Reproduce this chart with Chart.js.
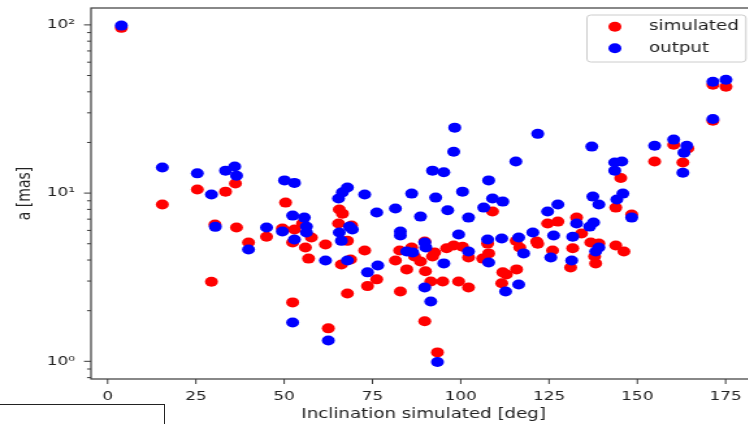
<!DOCTYPE html>
<html><head><meta charset="utf-8">
<script src="https://cdn.jsdelivr.net/npm/chart.js@4.4.1/dist/chart.umd.min.js"></script>
<style>
html,body{margin:0;padding:0;width:748px;height:424px;overflow:hidden;background:#fff;}
#wrap{position:absolute;left:0;top:0;width:600px;height:424px;transform:scaleX(1.3);transform-origin:0 0;}
#box{position:absolute;left:-4px;top:404px;width:167px;height:40px;border:1.3px solid #222;background:#fff;}
</style></head>
<body>
<div id="wrap"><canvas id="c" width="600" height="424"></canvas></div>
<div id="box"></div>
<script>
const seriesNames = ['simulated', 'output'];
const simInc = [3.9,15.5,25.4,29.4,30.4,33.4,36.2,36.5,39.9,45.0,50.4,49.5,52.9,55.2,52.4,56.0,56.9,57.7,52.4,61.7,62.5,65.6,66.5,65.4,67.9,66.2,68.8,69.1,67.9,72.8,73.6,76.2,81.5,82.7,82.9,84.7,86.1,86.9,88.6,89.8,89.8,90.0,91.5,92.6,92.0,93.4,94.9,96.0,98.0,100.5,99.4,102.2,102.2,106.2,107.9,107.6,109.0,111.9,112.9,111.6,115.8,116.7,115.7,121.5,121.8,124.6,127.5,126.0,132.8,134.2,131.7,131.1,136.8,139.1,137.9,138.2,143.9,145.3,143.9,146.2,148.4,154.9,160.3,164.3,162.9,171.4,171.4,175.1];
const simA = [96,8.55,10.5,2.97,6.5,10.2,11.4,6.24,5.08,5.5,8.78,6.15,6.07,6.59,5.08,4.75,4.08,5.44,2.24,4.95,1.57,7.98,7.55,6.59,5.2,3.76,4.03,6.41,2.53,4.56,2.8,3.07,3.97,4.56,2.6,3.52,4.75,4.2,3.92,5.15,1.73,3.43,2.98,4.44,4.2,1.13,2.98,4.7,4.88,4.8,2.98,4.14,2.75,4.08,4.38,5.01,7.77,3.38,3.28,2.91,3.52,4.75,5.2,5.15,5.0,6.59,6.77,4.56,7.15,5.75,4.7,3.61,5.08,5.01,4.2,3.82,8.2,12.3,4.88,4.5,7.45,15.4,19.4,18.4,15.2,26.9,44.1,42.9];
const outInc = [3.9,15.5,25.4,29.4,30.5,33.4,36.0,36.5,39.9,45.0,50.1,52.9,52.4,55.7,49.5,52.9,56.3,56.3,52.4,61.7,62.5,65.4,66.5,67.9,65.6,66.2,67.9,68.5,69.3,72.8,73.6,76.2,76.5,81.5,82.9,82.9,84.7,86.1,86.4,88.6,89.8,90.1,89.8,91.5,92.0,92.9,93.4,95.2,95.2,96.3,98.0,98.3,99.4,100.5,102.2,102.2,106.5,107.9,107.6,107.9,109.0,111.9,111.6,112.7,115.6,116.4,116.4,117.8,120.4,121.8,124.6,127.5,126.3,125.5,132.8,131.7,131.4,136.5,137.6,137.1,137.4,139.1,139.1,138.2,143.6,145.6,143.6,145.9,144.2,148.4,154.9,160.3,164.0,163.2,162.9,171.4,171.4,175.1];
const outA = [99,14.2,13.1,9.8,6.3,13.6,14.4,12.7,4.62,6.24,11.9,11.5,7.35,7.15,5.91,5.3,6.32,5.83,1.70,3.97,1.33,9.28,10.1,10.8,5.83,5.2,3.97,6.32,6.07,9.8,3.38,7.66,3.71,8.09,5.91,5.59,4.5,9.93,4.44,7.25,5.08,4.75,2.75,2.27,13.6,9.4,0.99,13.3,3.82,7.9,17.6,24.5,5.67,10.2,7.15,4.5,8.2,11.9,5.3,3.87,9.28,8.9,5.37,2.6,15.4,5.44,2.86,4.38,5.83,22.5,7.77,8.55,5.59,4.14,6.59,5.5,3.97,6.32,6.68,18.9,9.53,8.55,4.75,4.5,15.2,15.4,13.6,9.93,9.16,7.15,19.1,20.8,19.1,17.4,13.2,27.6,45.9,47.2];
const xTickValues = [0, 25, 50, 75, 100, 125, 150, 175];
const yTickLabels = {1: '10\u2070', 10: '10\u00B9', 100: '10\u00B2'};

const FONT = 'DejaVu Sans';
const INK = '#222';
const SPINE = '#3a3a3a';

function logTicks(min, max) {
  const out = [];
  for (let e = -1; e <= 2; e++) {
    for (let m = 1; m <= 9; m++) {
      const v = +(m * Math.pow(10, e)).toPrecision(3);
      if (v >= min && v <= max) out.push(v);
    }
  }
  return out;
}

const framePlugin = {
  id: 'frame',
  afterDatasetsDraw(chart) {
    const {ctx, chartArea: a, scales: {x, y}} = chart;
    ctx.save();
    ctx.strokeStyle = SPINE;
    ctx.lineWidth = 1.2;
    ctx.strokeRect(a.left, a.top, a.right - a.left, a.bottom - a.top);
    ctx.beginPath();
    x.ticks.forEach(t => {
      const px = x.getPixelForValue(t.value);
      ctx.moveTo(px, a.bottom); ctx.lineTo(px, a.bottom + 5);
    });
    y.ticks.forEach(t => {
      const py = y.getPixelForValue(t.value);
      const len = yTickLabels[t.value] ? 5.4 : 3.1;
      ctx.moveTo(a.left, py); ctx.lineTo(a.left - len, py);
    });
    ctx.lineWidth = 1;
    ctx.stroke();
    ctx.restore();
  }
};

const legendPlugin = {
  id: 'mplLegend',
  afterDraw(chart) {
    const {ctx, chartArea: a} = chart;
    const w = 122.3, h = 47;
    const x0 = a.right - 8 - w, y0 = a.top + 7;
    ctx.save();
    ctx.fillStyle = 'rgba(255,255,255,0.8)';
    ctx.strokeStyle = '#cccccc';
    ctx.lineWidth = 1;
    ctx.beginPath();
    ctx.roundRect(x0, y0, w, h, 3);
    ctx.fill(); ctx.stroke();
    chart.data.datasets.forEach((ds, i) => {
      const cy = y0 + 11.7 + i * 21.5;
      ctx.fillStyle = ds.backgroundColor;
      ctx.beginPath();
      ctx.arc(x0 + 21.5, cy, 5, 0, Math.PI * 2);
      ctx.fill();
      ctx.fillStyle = INK;
      ctx.font = '14px "' + FONT + '"';
      ctx.textBaseline = 'middle';
      ctx.textAlign = 'left';
      ctx.fillText(ds.label, x0 + 47.7, cy);
    });
    ctx.restore();
  }
};

const toPoints = (xs, ys) => xs.map((v, i) => ({x: v, y: ys[i]}));
const noPad = s => { s.paddingTop = 0; s.paddingBottom = 0; s.paddingLeft = 0; s.paddingRight = 0; };

new Chart(document.getElementById('c'), {
  type: 'scatter',
  data: {
    datasets: [
      {label: seriesNames[0], data: toPoints(simInc, simA), backgroundColor: '#ff0000', borderWidth: 0, pointRadius: 5, pointHoverRadius: 5, order: 1},
      {label: seriesNames[1], data: toPoints(outInc, outA), backgroundColor: '#0000ff', borderWidth: 0, pointRadius: 5, pointHoverRadius: 5, order: 0}
    ]
  },
  options: {
    responsive: false,
    animation: false,
    devicePixelRatio: 1,
    events: [],
    layout: {padding: {left: 0, top: 8, right: 18.2, bottom: 0}},
    plugins: {legend: {display: false}, tooltip: {enabled: false}},
    scales: {
      x: {
        type: 'linear', min: -4.7, max: 183.7,
        afterBuildTicks: s => { s.ticks = xTickValues.map(v => ({value: v})); },
        afterFit: s => { s.height = 45; noPad(s); },
        grid: {display: false, drawTicks: false},
        border: {display: false},
        ticks: {autoSkip: false, maxRotation: 0, padding: 9.5, color: INK, font: {family: FONT, size: 13}},
        title: {display: true, text: 'Inclination simulated [deg]', color: INK, font: {family: FONT, size: 14}, padding: {top: 0, bottom: 0.8}}
      },
      y: {
        type: 'logarithmic', min: 0.785, max: 126,
        afterBuildTicks: s => { s.ticks = logTicks(s.min, s.max).map(v => ({value: v, major: !!yTickLabels[v]})); },
        afterFit: s => { s.width = 70; noPad(s); },
        grid: {display: false, drawTicks: false},
        border: {display: false},
        ticks: {autoSkip: false, padding: 12.3, color: INK, font: {family: FONT, size: 13}, callback: v => yTickLabels[v] || ''},
        title: {display: true, text: 'a [mas]', color: INK, font: {family: FONT, size: 14}, padding: {top: 10.8, bottom: 0}}
      }
    }
  },
  plugins: [framePlugin, legendPlugin]
});
</script>
</body></html>
